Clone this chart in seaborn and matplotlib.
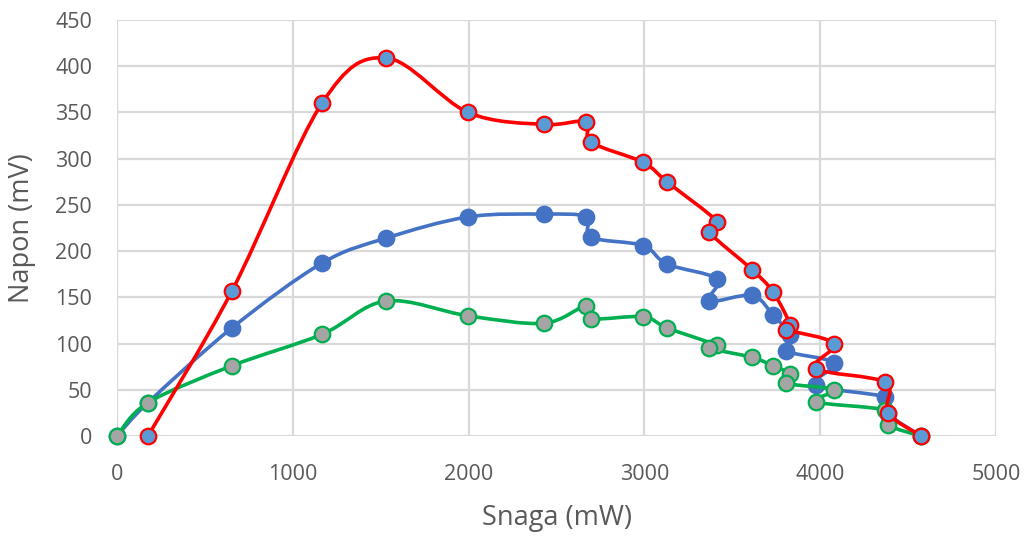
"""
Napon vs Snaga – three measured series with Excel-style smoothed lines
"""

import pandas as pd
import numpy as np
import matplotlib
matplotlib.use('Agg')
import matplotlib.pyplot as plt
from matplotlib.path import Path
from matplotlib.patches import PathPatch
import seaborn as sns

# ─────────────────────────────────────────────
# DATA
# ─────────────────────────────────────────────
snaga = [0, 176, 654, 1166, 1530, 1997, 2429, 2668, 2696, 2992, 3128,
         3413, 3368, 3612, 3731, 3830, 3808, 4079, 3976, 4369, 4386, 4573]

napon_plava = [0, 36, 117, 187, 214, 237, 240, 237, 215, 206, 186,
               170, 146, 152, 131, 109, 92, 79, 55, 42, 24, 0]
napon_zelena = [0, 36, 76, 110, 146, 130, 122, 141, 127, 129, 117,
                98, 95, 85, 76, 67, 57, 50, 37, 28, 12, 0]
# red series has no point at 0 mW
snaga_crvena = snaga[1:]
napon_crvena = [0, 157, 360, 409, 350, 337, 340, 318, 296, 275,
                232, 221, 180, 156, 120, 115, 100, 73, 58, 25, 0]

# series: (x, y, line colour, marker fill, marker edge)
SERIES = [
    ("plava", snaga, napon_plava, "#4472C4", "#4472C4", "#4472C4"),
    ("zelena", snaga, napon_zelena, "#00B050", "#A5A5A5", "#00B050"),
    ("crvena", snaga_crvena, napon_crvena, "#FF0000", "#5B9BD5", "#FF0000"),
]

TXT = "#595959"
GRID = "#D9D9D9"


def smooth_path(x, y):
    # Catmull-Rom style cubic bezier through the points (like Excel "smoothed line")
    pts = np.column_stack([x, y]).astype(float)
    n = len(pts)
    verts, codes = [pts[0]], [Path.MOVETO]
    for i in range(n - 1):
        p0 = pts[i - 1] if i > 0 else pts[i]
        p1, p2 = pts[i], pts[i + 1]
        p3 = pts[i + 2] if i + 2 < n else pts[i + 1]
        verts += [p1 + (p2 - p0) / 6, p2 - (p3 - p1) / 6, p2]
        codes += [Path.CURVE4] * 3
    return Path(verts, codes)


sns.set_style("white")
plt.rcParams['font.family'] = ['Open Sans', 'DejaVu Sans']

fig = plt.figure(figsize=(10.28, 5.36), dpi=100)
ax = fig.add_axes([117 / 1028, 1 - 436 / 536, 879 / 1028, 416 / 536])

for k, (name, xs, ys, lc, fc, ec) in enumerate(SERIES):
    z = 3 + 2 * k
    ax.add_patch(PathPatch(smooth_path(xs, ys), facecolor='none', edgecolor=lc,
                           lw=2.6, zorder=z, capstyle='round', joinstyle='round'))
    d = pd.DataFrame({"Snaga": xs, "Napon": ys})
    sns.scatterplot(data=d, x="Snaga", y="Napon", ax=ax, s=125, color=fc,
                    edgecolor=ec, linewidth=1.6, zorder=z + 1, clip_on=False)

ax.set_xlim(0, 5000)
ax.set_ylim(0, 450)
ax.set_xticks(np.arange(0, 5001, 1000))
ax.set_yticks(np.arange(0, 451, 50))
ax.grid(True, color=GRID, lw=1.6)
ax.set_axisbelow(True)
for s in ax.spines.values():
    s.set_visible(False)
ax.tick_params(length=0, labelsize=15.5, labelcolor=TXT)
ax.tick_params(axis='x', pad=20)
ax.tick_params(axis='y', pad=18)
ax.set_xlabel("Snaga (mW)", fontsize=19.5, color=TXT, labelpad=14)
ax.set_ylabel("Napon (mV)", fontsize=19.5, color=TXT, labelpad=14)

plt.savefig("out.png", dpi=100)
plt.close()
